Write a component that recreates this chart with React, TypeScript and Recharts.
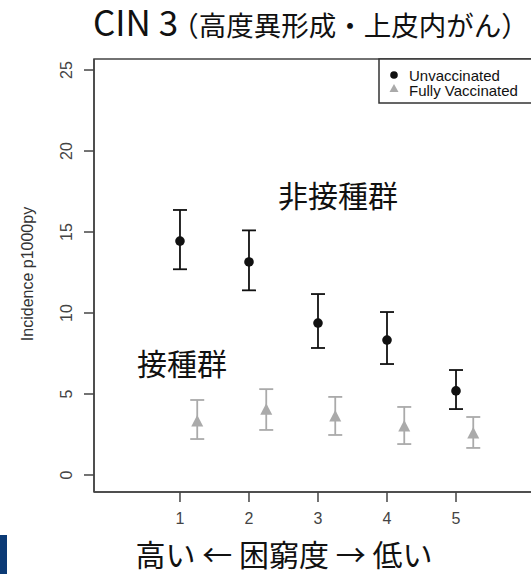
import React from 'react';
import { ScatterChart, Scatter, XAxis, YAxis, ErrorBar, ReferenceArea } from 'recharts';

const categories = [1, 2, 3, 4, 5];
const unvaccinated = [14.44, 13.15, 9.38, 8.33, 5.19];
const unvaccinatedLow = [12.7, 11.4, 7.84, 6.85, 4.07];
const unvaccinatedHigh = [16.36, 15.1, 11.17, 10.06, 6.48];
const vaccinated = [3.27, 4.0, 3.58, 2.96, 2.53];
const vaccinatedLow = [2.22, 2.78, 2.47, 1.91, 1.67];
const vaccinatedHigh = [4.63, 5.3, 4.82, 4.2, 3.58];
const yTicks = [0, 5, 10, 15, 20, 25];
const seriesNames = ['Unvaccinated', 'Fully Vaccinated'];
const titleMain = 'CIN 3';
const titleSub = '（高度異形成・上皮内がん）';
const xLabel = '高い ← 困窮度 → 低い';
const yLabel = 'Incidence p1000py';
const annotUnvacc = '非接種群';
const annotVacc = '接種群';

const VACC_OFFSET = 0.25;
const X_DOMAIN: [number, number] = [-0.246, 6.507];
const Y_DOMAIN: [number, number] = [-1.05, 25.68];

const BLACK = '#111';
const GREY = '#aaa';
const AXIS = '#444';
const LATIN = '"Liberation Sans", Arial, sans-serif';
const CJK = '"Noto Sans CJK JP", "Noto Sans", sans-serif';

const unvaccData = categories.map((c, i) => ({
  x: c,
  y: unvaccinated[i],
  err: [unvaccinated[i] - unvaccinatedLow[i], unvaccinatedHigh[i] - unvaccinated[i]],
}));
const vaccData = categories.map((c, i) => ({
  x: c + VACC_OFFSET,
  y: vaccinated[i],
  err: [vaccinated[i] - vaccinatedLow[i], vaccinatedHigh[i] - vaccinated[i]],
}));

const Dot = (p: any) => <circle cx={p.cx} cy={p.cy} r={4.8} fill={BLACK} />;
const Tri = (p: any) => (
  <polygon
    points={`${p.cx},${p.cy - 7} ${p.cx - 6},${p.cy + 4.5} ${p.cx + 6},${p.cy + 4.5}`}
    fill={GREY}
  />
);

const YTick = (p: any) => {
  const { x, y, payload } = p;
  return (
    <text
      x={x}
      y={y}
      transform={`rotate(-90 ${x} ${y})`}
      textAnchor="middle"
      fill={AXIS}
      fontSize={16}
      fontFamily={LATIN}
    >
      {payload.value}
    </text>
  );
};

const LegendBox = ({ x, y }: { x: number; y: number }) => (
  <g transform={`translate(${x} ${y})`}>
    <rect x={0} y={0} width={200} height={44} fill="#fff" stroke="#333" strokeWidth={1.5} />
    <circle cx={15} cy={16} r={3.8} fill={BLACK} />
    <polygon points="15,25 10.5,33 19.5,33" fill={GREY} />
    <text x={30} y={22} fontSize={15} fontFamily={LATIN} fill="#111">{seriesNames[0]}</text>
    <text x={30} y={37} fontSize={15} fontFamily={LATIN} fill="#111">{seriesNames[1]}</text>
  </g>
);

export default function App() {
  return (
    <div style={{ position: 'absolute', left: 0, top: 0, width: 531, height: 574, overflow: 'hidden', background: '#fff' }}>
      <ScatterChart width={560} height={574} margin={{ top: 59, right: 0, bottom: 0, left: 0 }}>
        <XAxis
          type="number"
          dataKey="x"
          domain={X_DOMAIN}
          ticks={categories}
          allowDataOverflow
          height={82}
          tickSize={10}
          tickMargin={11}
          tick={{ fill: AXIS, fontSize: 16, fontFamily: LATIN }}
          tickLine={{ stroke: AXIS, strokeWidth: 1.5 }}
          axisLine={{ stroke: AXIS, strokeWidth: 1.5 }}
        />
        <YAxis
          type="number"
          dataKey="y"
          domain={Y_DOMAIN}
          ticks={yTicks}
          allowDataOverflow
          width={94}
          tickSize={10}
          tickMargin={12}
          tick={<YTick />}
          tickLine={{ stroke: AXIS, strokeWidth: 1.5 }}
          axisLine={{ stroke: AXIS, strokeWidth: 1.5 }}
        />
        <ReferenceArea
          x1={X_DOMAIN[0]}
          x2={X_DOMAIN[1]}
          y1={Y_DOMAIN[0]}
          y2={Y_DOMAIN[1]}
          fill="none"
          fillOpacity={0}
          stroke={AXIS}
          strokeWidth={1.5}
        />
        <Scatter name={seriesNames[0]} data={unvaccData} shape={<Dot />} isAnimationActive={false}>
          <ErrorBar dataKey="err" direction="y" width={7} stroke={BLACK} strokeWidth={1.8} />
        </Scatter>
        <Scatter name={seriesNames[1]} data={vaccData} shape={<Tri />} isAnimationActive={false}>
          <ErrorBar dataKey="err" direction="y" width={7} stroke={GREY} strokeWidth={1.8} />
        </Scatter>
      </ScatterChart>
      <svg width={531} height={574} style={{ position: 'absolute', left: 0, top: 0, pointerEvents: 'none' }}>
        <LegendBox x={379} y={59} />
        <text x={93} y={36} fontFamily={CJK} fill="#111">
          <tspan fontSize={35}>{titleMain}</tspan>
          <tspan fontSize={27.5} dx={-7}>{titleSub}</tspan>
        </text>
        <text x={278} y={207} fontFamily={CJK} fontSize={30} fill="#111">{annotUnvacc}</text>
        <text x={137} y={375} fontFamily={CJK} fontSize={30} fill="#111">{annotVacc}</text>
        <text x={284} y={566} textAnchor="middle" fontFamily={CJK} fontSize={30} fill="#111">{xLabel}</text>
        <text
          x={27}
          y={274}
          transform="rotate(-90 27 274)"
          textAnchor="middle"
          dominantBaseline="central"
          fontFamily={LATIN}
          fontSize={16}
          fill="#333"
        >
          {yLabel}
        </text>
        <rect x={0} y={535} width={7} height={39} fill="#0b3a75" />
      </svg>
    </div>
  );
}
